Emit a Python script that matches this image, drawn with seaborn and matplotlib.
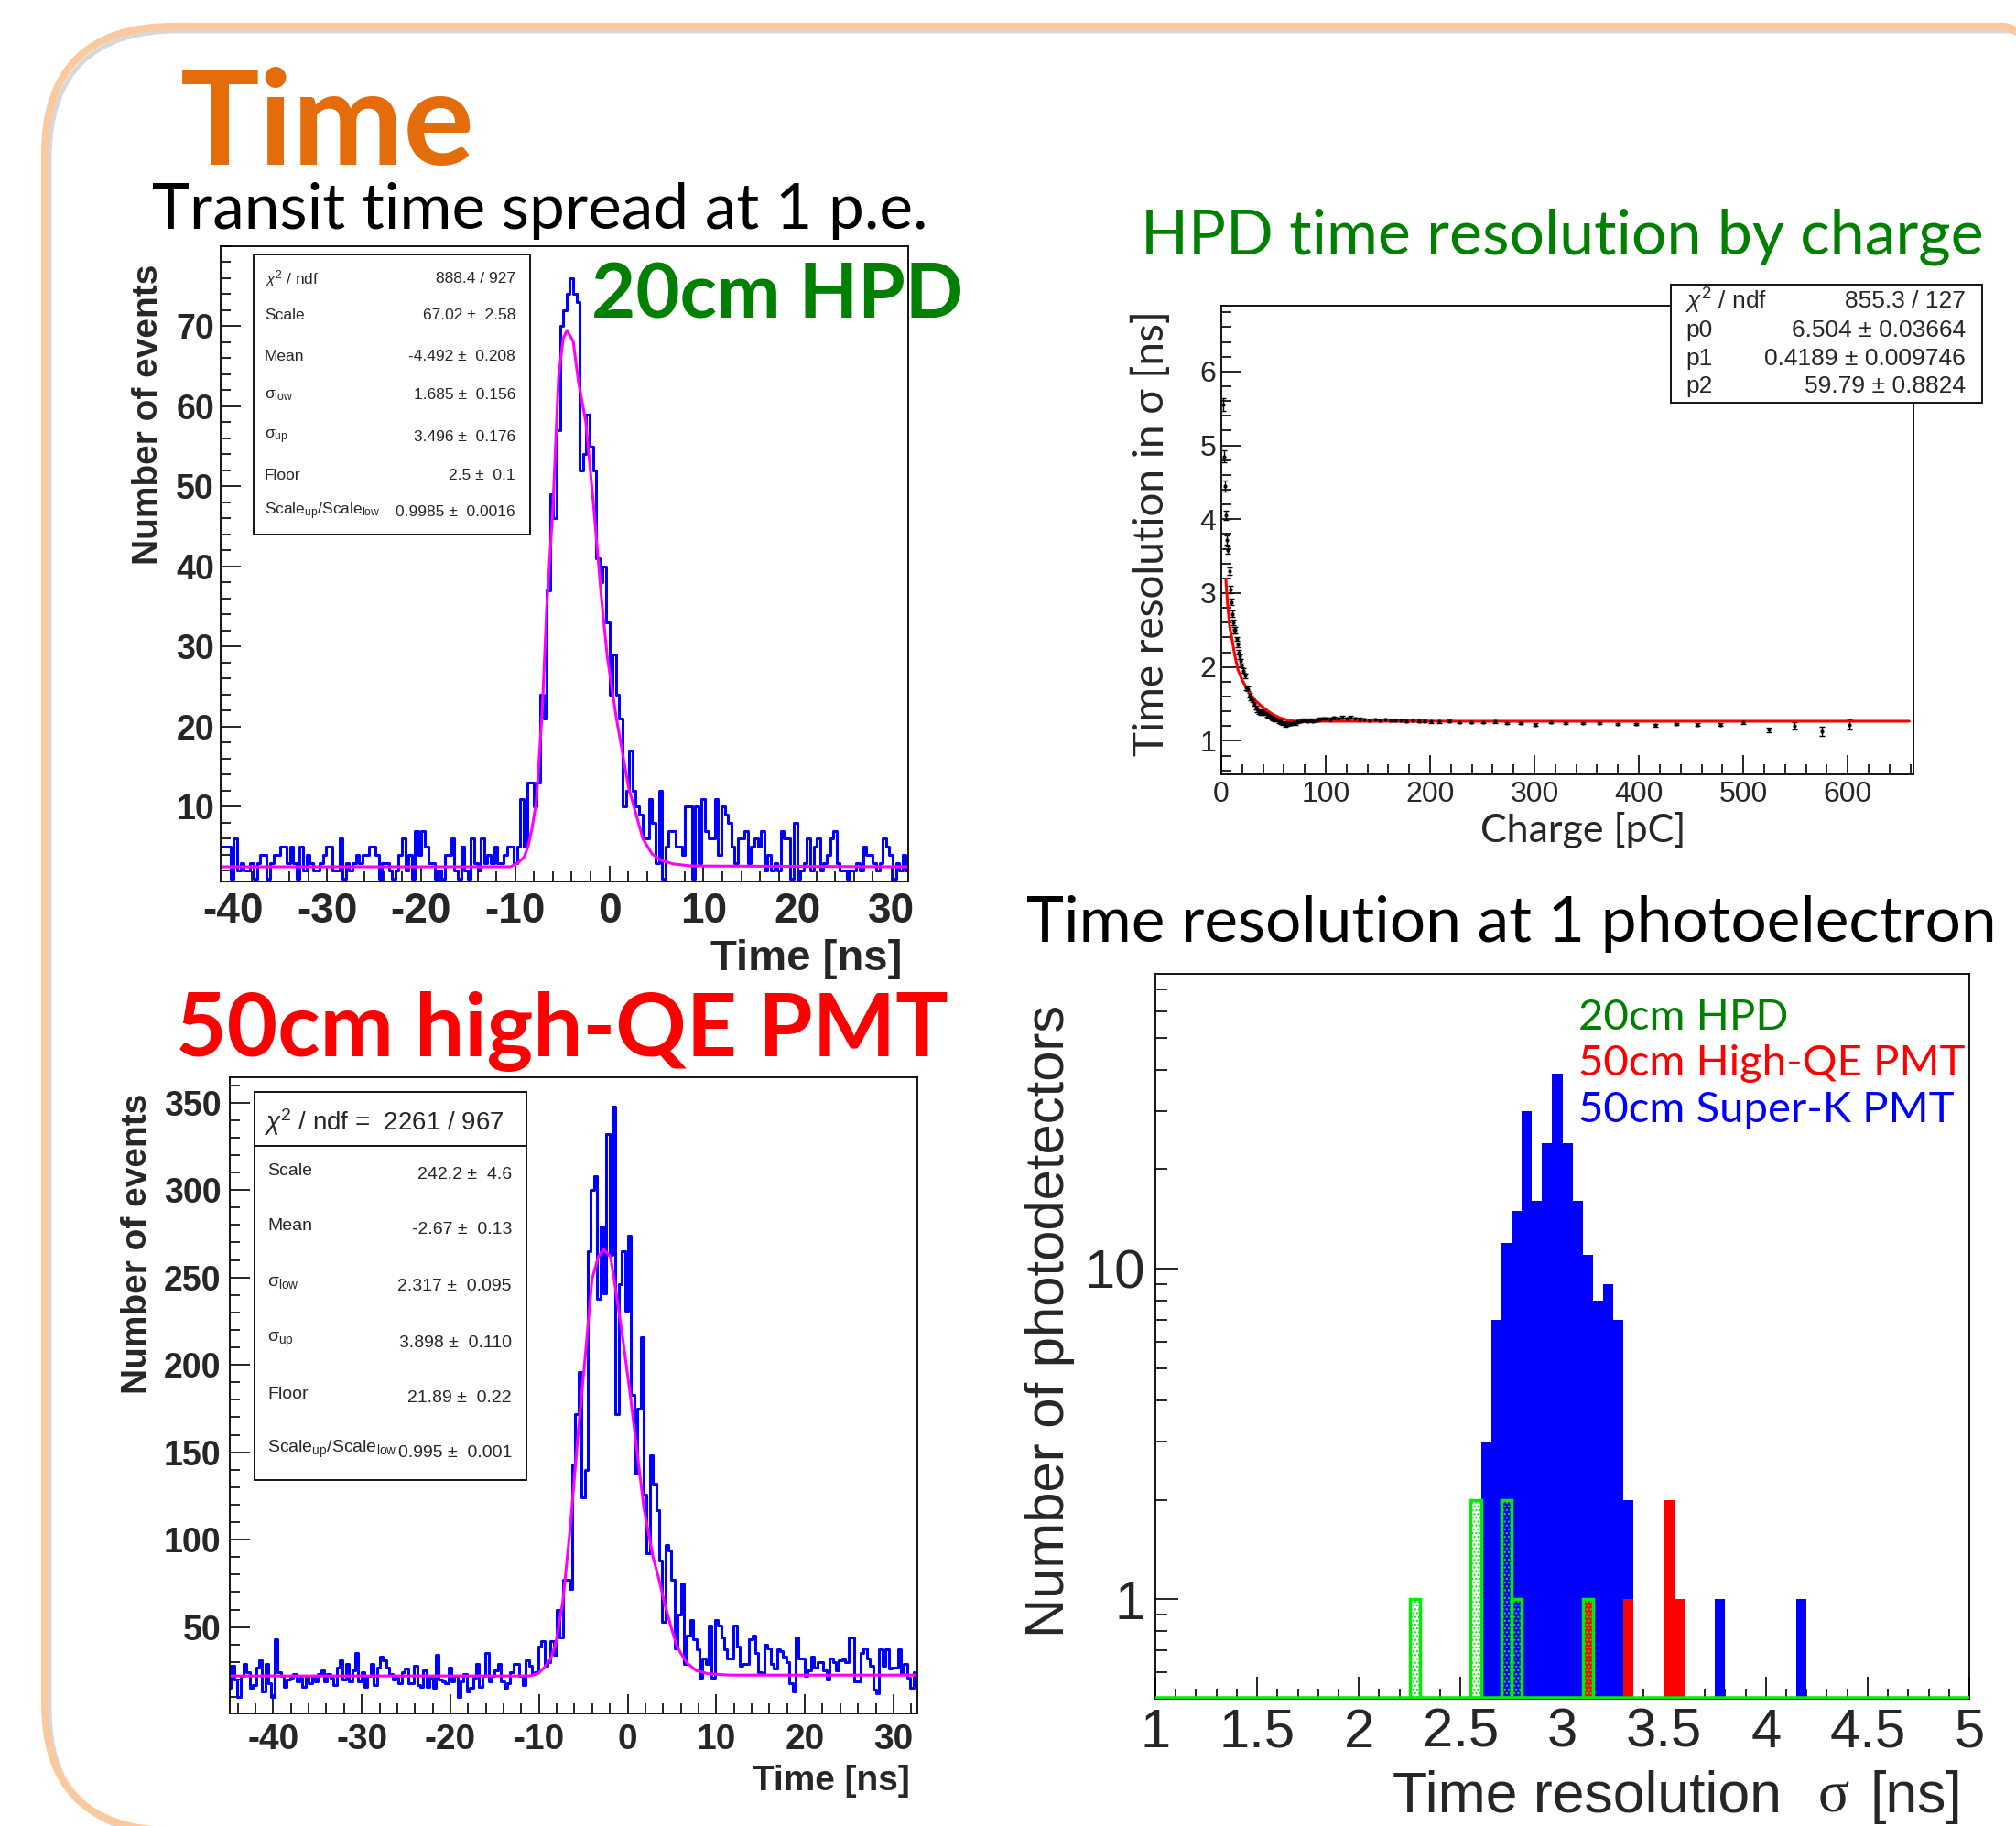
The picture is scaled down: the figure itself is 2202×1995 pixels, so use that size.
import numpy as np
import pandas as pd
import matplotlib
matplotlib.use("Agg")
import matplotlib.pyplot as plt
import seaborn as sns
from matplotlib.patches import FancyBboxPatch, Rectangle
from matplotlib.ticker import MultipleLocator, FixedLocator, NullFormatter

# 20cm HPD transit time histogram (0.35 ns bins)
hpd_start, hpd_width = -41.3, 0.35
hpd_counts = [5, 5, 5, 1, 6, 2, 3, 2, 2, 3, 1, 3, 4, 4, 1, 3, 4, 4, 5, 5, 3, 5, 3, 1, 5, 2, 4,
              3, 2, 2, 3, 4, 5, 5, 2, 2, 6, 1, 3, 2, 3, 4, 3, 4, 4, 5, 5, 4, 1, 3, 3, 2, 1, 2,
              4, 6, 2, 4, 1, 7, 4, 7, 5, 3, 3, 1, 2, 1, 4, 4, 6, 2, 1, 5, 2, 1, 6, 3, 2, 6, 3,
              4, 3, 5, 3, 3, 4, 5, 5, 3,
              5, 11, 5, 13, 13, 10, 13,
              24, 21, 37, 49, 46, 57, 70, 72, 74, 76, 74, 73, 52, 54, 59, 55, 52, 41, 38, 40,
              33, 24, 29, 24, 21, 10, 12, 17,
              12, 10, 9, 6, 6, 11, 8, 3, 12, 1, 5, 7, 7, 5, 5, 4, 10, 10, 1, 10, 3, 11,
              7, 6, 6, 11, 4, 10, 9, 8, 5, 3, 6, 6, 7, 3, 5, 6, 5, 7, 2, 4, 2, 3,
              2, 7, 6, 6, 1, 8, 1, 2, 3, 6, 2, 5, 6, 2, 3, 4, 6, 7, 3, 2, 2, 1,
              2, 2, 3, 2, 5, 4, 4, 3, 2, 3, 6, 5, 4, 1, 3, 2, 4, 2]
hpd_fit_t = [-41.3, -10.5, -9.7, -9.06, -8.64, -8.25, -7.77, -7.13, -6.65, -6.0, -5.4, -4.9, -4.5,
             -3.84, -3.3, -2.5, -1.69, -0.88, -0.23, 0.74, 2.04, 2.92, 3.56, 4.54, 5.5, 6.8, 8.75, 31.75]
hpd_fit_n = [2.5, 2.5, 3.0, 3.7, 5.0, 7.1, 10.5, 22.0, 35.0, 47.3, 63.7, 68.5, 69.5,
             68.1, 63.2, 58.0, 47.8, 36.5, 28.8, 21.1, 12.4, 8.7, 6.0, 4.1, 3.3, 2.85, 2.6, 2.5]

# 50cm high-QE PMT transit time histogram (0.35 ns bins)
pmt_start, pmt_width = -45.1, 0.35
pmt_counts = [15, 28, 20, 10, 22, 29, 24, 15, 17, 27, 31,
              13, 29, 18, 10, 43, 24, 22, 16, 20, 21, 23, 19,
              21, 16, 22, 18, 22, 19, 23, 25, 19, 23, 21, 17,
              27, 31, 20, 29, 19, 25, 35, 19, 24, 16, 22,
              29, 17, 27, 33, 31, 27, 23, 20, 21, 18, 24, 26,
              18, 18, 28, 17, 16, 25, 16, 21, 15, 34, 20,
              19, 18, 27, 19, 22, 10, 19, 23, 13, 15, 21,
              29, 16, 22, 35, 19, 22, 25, 29, 19, 15, 18, 24,
              29, 29, 22, 17, 31, 28, 23, 24, 39, 42, 28, 30,
              42, 34, 60, 44, 77, 77, 72, 143, 172, 196, 124, 140, 265, 300, 308, 238, 279, 241,
              332, 263, 348, 172, 246, 265, 231, 274, 183, 138, 175, 216, 126, 92, 148, 132,
              117, 88, 53, 97, 94, 77, 38, 57,
              75, 29, 45, 54, 43, 37, 21, 32, 29, 51, 21, 54, 51, 44, 37, 32, 32, 51, 39, 28,
              29, 29, 43, 45, 35, 24, 23, 40, 38, 29, 26, 37, 36, 33, 30, 18, 13, 44, 32, 32,
              22, 25, 33, 27, 30, 30, 25, 20, 32, 30, 25, 31, 32, 30, 44, 44, 19, 19, 35, 38,
              32, 28, 14, 12, 37, 28, 37, 26, 27, 27, 37, 23, 29, 21, 15, 24, 24]
pmt_fit_t = [-44.9, -11.1, -10.07, -9.38, -8.69, -8.1, -7.3, -6.44, -5.57, -4.71, -4.02, -3.3, -2.7,
             -1.94, -1.43, -0.57, 0.29, 1.15, 1.84, 2.87, 3.5, 4.2, 4.9, 5.5, 6.0, 6.67, 7.7, 9.08, 11.5, 32.7]
pmt_fit_n = [22.0, 22.0, 23.5, 27.0, 32.0, 41.0, 65.0, 109.0, 162.0, 209.0, 249.0, 262.0, 266.0,
             262.0, 246.0, 216.0, 183.0, 147.0, 118.0, 90.0, 78.0, 63.0, 50.0, 40.0, 35.0, 29.6, 25.2, 23.3, 22.5, 22.5]

# HPD time resolution vs charge
charge = [1.5, 2.5, 3.5, 4.5, 5.5, 6.5, 7.5, 8.5, 9.5, 10.5, 11.5, 12.5, 13.5, 14.5, 15.5, 16.5, 17.5, 18.5, 19.5,
          21, 22.5, 24, 25.5, 27, 28.5, 30, 31.5, 33, 34.5, 36, 37.5, 39, 40.5, 42, 43.5, 45, 46.5, 48, 49.5, 51,
          53, 55, 57, 59, 61, 63, 65, 67, 69, 71, 73,
          76, 79, 82, 85, 88, 91, 94, 97, 100,
          104, 108, 112, 116, 120, 124, 128, 132,
          137, 142, 147, 152, 157, 162, 167, 172, 177,
          183, 189, 195, 201,
          209, 218, 228, 239, 251, 262, 274, 287, 301, 316, 330, 346, 362, 380, 397, 416, 436, 456,
          478, 500, 524, 549, 575, 602]
sigma = [5.55, 4.85, 4.45, 4.05, 3.72, 3.58, 3.3, 3.05, 2.88, 2.72, 2.6, 2.5, 2.5, 2.38, 2.3, 2.2, 2.14, 2.08, 2.02,
         1.95, 1.88, 1.72, 1.7, 1.62, 1.58, 1.55, 1.5, 1.45, 1.42, 1.39, 1.38, 1.38, 1.39, 1.38, 1.36, 1.35, 1.34,
         1.32, 1.31, 1.3,
         1.29, 1.27, 1.26, 1.24, 1.22, 1.23, 1.24, 1.23, 1.25, 1.24, 1.26,
         1.27, 1.28, 1.27, 1.28, 1.27, 1.28, 1.29, 1.3, 1.3,
         1.29, 1.31, 1.3, 1.32, 1.3, 1.32, 1.3, 1.29,
         1.29, 1.28, 1.29, 1.28, 1.29, 1.28, 1.28, 1.28, 1.27,
         1.28, 1.27, 1.27, 1.26,
         1.26, 1.27, 1.25, 1.25, 1.25, 1.26, 1.24, 1.24, 1.22, 1.25, 1.24, 1.24, 1.24, 1.23, 1.23, 1.21, 1.23,
         1.22, 1.22, 1.25, 1.15, 1.2, 1.13, 1.22]
sigma_err = [0.09, 0.08, 0.07, 0.06, 0.06, 0.05, 0.05, 0.05, 0.04, 0.04, 0.04, 0.04, 0.04, 0.03, 0.03, 0.03,
             0.03, 0.03, 0.03,
             0.03, 0.03, 0.03, 0.03, 0.03, 0.03, 0.03, 0.03, 0.03, 0.03, 0.03, 0.03, 0.03, 0.03, 0.03, 0.03,
             0.03, 0.03, 0.03, 0.03, 0.03,
             0.03, 0.03, 0.03, 0.03, 0.03, 0.03, 0.03, 0.02, 0.02, 0.02, 0.02,
             0.02, 0.02, 0.02, 0.02, 0.02, 0.02, 0.02, 0.02, 0.02,
             0.02, 0.02, 0.02, 0.02, 0.02, 0.02, 0.02, 0.02,
             0.015, 0.015, 0.015, 0.015, 0.015, 0.015, 0.015, 0.015, 0.015,
             0.015, 0.015, 0.015, 0.015,
             0.015, 0.015, 0.015, 0.015, 0.015, 0.015, 0.015, 0.015, 0.015, 0.015, 0.015, 0.015, 0.015,
             0.015, 0.015, 0.015, 0.015, 0.015, 0.02, 0.02, 0.03, 0.05, 0.06, 0.07]
charge_fit = [4.3, 6.0, 8.0, 10.7, 13.0, 16.0, 20.0, 24.0, 30.0, 37.6, 44.0, 49.0, 56.0, 64.0, 70.0, 659.0]
sigma_fit = [3.19, 2.85, 2.55, 2.34, 2.15, 1.96, 1.82, 1.72, 1.58, 1.48, 1.41, 1.36, 1.31, 1.28, 1.265, 1.265]

# time resolution at 1 p.e. (0.05 ns bins from 1 to 5 ns)
res_lo, res_hi, res_step = 1.0, 5.0, 0.05
sk_res = [2.625, 2.675, 2.725, 2.775, 2.825, 2.875, 2.925, 2.975, 3.025, 3.075, 3.125, 3.175,
          3.225, 3.275, 3.325, 3.775, 4.175]
sk_n = [3, 7, 12, 15, 30, 16, 24, 39, 24, 16, 11, 8, 9, 7, 2, 1, 1]
hqe_res = [3.125, 3.325, 3.525, 3.575]
hqe_n = [1, 1, 2, 1]
hpd_res = [2.275, 2.575, 2.725, 2.775, 3.125]
hpd_n = [1, 2, 2, 1, 1]

sns.set_theme(style="white")
plt.rcParams['font.family'] = ['Liberation Sans', 'DejaVu Sans']
plt.rcParams['axes.unicode_minus'] = False
plt.rcParams['mathtext.fontset'] = 'custom'
plt.rcParams['mathtext.rm'] = 'Liberation Sans'
plt.rcParams['mathtext.it'] = 'Liberation Sans:italic'
plt.rcParams['mathtext.bf'] = 'Liberation Sans:bold'

W, H = 2202, 1995
fig = plt.figure(figsize=(W / 100, H / 100), dpi=100, facecolor='white')
narrow = ['Liberation Sans Narrow', 'Liberation Sans', 'DejaVu Sans']
cal = ['Lato', 'DejaVu Sans']


def fx(px):
    return px / W


def fy(py):
    return 1 - py / H


def add_ax(l, t, r, b):
    return fig.add_axes([fx(l), fy(b), (r - l) / W, (b - t) / H])


def root_style(ax, xmaj_len, xmin_len, ymaj_len, ymin_len):
    for s in ax.spines.values():
        s.set_color('black')
        s.set_linewidth(1.3)
    ax.tick_params(which='both', direction='in', top=False, right=False, bottom=True, left=True,
                   color='black', width=1.2)
    ax.tick_params(axis='x', which='major', length=xmaj_len)
    ax.tick_params(axis='x', which='minor', length=xmin_len)
    ax.tick_params(axis='y', which='major', length=ymaj_len)
    ax.tick_params(axis='y', which='minor', length=ymin_len)
    ax.set_xlabel('')
    ax.set_ylabel('')


def stat_box(l, t, r, b):
    fig.add_artist(Rectangle((fx(l), fy(b)), (r - l) / W, (b - t) / H, transform=fig.transFigure,
                             facecolor='white', edgecolor='black', linewidth=1.3, zorder=5))


def hist_df(centers, counts):
    return pd.DataFrame({'t': [float(c) for c in centers], 'n': [float(v) for v in counts]})


def hist_step(ax, start, width, counts):
    n = len(counts)
    edges = [float(e) for e in start + width * np.arange(n + 1)]
    centers = start + width * (np.arange(n) + 0.5)
    sns.histplot(data=hist_df(centers, counts), x='t', weights='n', bins=edges, element='step',
                 fill=False, color='#0000ff', linewidth=2.2, ax=ax)


def slide_frame(l, t, r, b, radius, color, lw, alpha=1.0):
    fig.add_artist(FancyBboxPatch((fx(l), fy(b)), (r - l) / W, (b - t) / H,
                                  boxstyle='round,pad=0,rounding_size=%f' % (radius / W),
                                  mutation_aspect=W / H, transform=fig.transFigure,
                                  facecolor='none', edgecolor=color, linewidth=lw, alpha=alpha, zorder=0))


# slide frame with a soft inner shadow
slide_frame(54, 34, 2333, 2005, 140, '#bdbdbd', 3.5, alpha=0.6)
slide_frame(49, 29, 2328, 2000, 140, '#fac99e', 5.8)

# ---------------- panel 1: 20cm HPD
ax1 = add_ax(241, 269, 992, 963)
hist_step(ax1, hpd_start, hpd_width, hpd_counts)
sns.lineplot(x=hpd_fit_t, y=hpd_fit_n, color='#ff00ff', linewidth=2.2, estimator=None, sort=False, ax=ax1)
ax1.set_xlim(-41.3, 31.75)
ax1.set_ylim(0.67, 80)
root_style(ax1, 12, 8, 16, 8)
ax1.xaxis.set_major_locator(FixedLocator([-40, -30, -20, -10, 0, 10, 20, 30]))
ax1.xaxis.set_minor_locator(MultipleLocator(2))
ax1.yaxis.set_major_locator(FixedLocator([10, 20, 30, 40, 50, 60, 70]))
ax1.yaxis.set_minor_locator(MultipleLocator(2))
ax1.set_xticklabels(['-40', '-30', '-20', '-10', '0', '10', '20', '30'], fontsize=33, fontweight='bold')
ax1.set_yticklabels(['10', '20', '30', '40', '50', '60', '70'], fontsize=27, fontweight='bold')
ax1.tick_params(axis='x', pad=8)
ax1.tick_params(axis='y', pad=5)
fig.text(fx(162), fy(453), 'Number of events', rotation=90, ha='center', va='center',
         fontsize=28, fontweight='bold')
fig.text(fx(985), fy(1060), 'Time [ns]', ha='right', va='baseline', fontsize=34, fontweight='bold')

stat_box(277, 278, 579, 584)
names1 = [r'$\chi^{2}$ / ndf', 'Scale', 'Mean', r'σ$_{\rm low}$', r'σ$_{\rm up}$', 'Floor',
          r'Scale$_{\rm up}$/Scale$_{\rm low}$']
vals1 = ['888.4 / 927', '67.02 ±  2.58', '-4.492 ±  0.208', '1.685 ±  0.156', '3.496 ±  0.176',
         '2.5 ±  0.1', '0.9985 ±  0.0016']
rows1 = [305, 345, 389, 432, 477, 520, 559]
for nm, vv, yy in zip(names1, vals1, rows1):
    fig.text(fx(289), fy(yy), nm, fontsize=12.5, va='center', ha='left', zorder=6)
    fig.text(fx(563), fy(yy), vv, fontsize=12.5, va='center', ha='right', zorder=6)

# ---------------- panel 2: 50cm high-QE PMT
ax2 = add_ax(251, 1177, 1002, 1872)
hist_step(ax2, pmt_start, pmt_width, pmt_counts)
sns.lineplot(x=pmt_fit_t, y=pmt_fit_n, color='#ff00ff', linewidth=2.2, estimator=None, sort=False, ax=ax2)
ax2.set_xlim(-44.9, 32.7)
ax2.set_ylim(0.6, 364.5)
root_style(ax2, 15, 8, 16, 8)
ax2.xaxis.set_major_locator(FixedLocator([-40, -30, -20, -10, 0, 10, 20, 30]))
ax2.xaxis.set_minor_locator(MultipleLocator(2))
ax2.yaxis.set_major_locator(FixedLocator([50, 100, 150, 200, 250, 300, 350]))
ax2.yaxis.set_minor_locator(MultipleLocator(10))
ax2.set_xticklabels(['-40', '-30', '-20', '-10', '0', '10', '20', '30'], fontsize=28, fontweight='bold')
ax2.set_yticklabels(['50', '100', '150', '200', '250', '300', '350'], fontsize=27, fontweight='bold')
ax2.tick_params(axis='x', pad=8)
ax2.tick_params(axis='y', pad=7)
fig.text(fx(150), fy(1359), 'Number of events', rotation=90, ha='center', va='center',
         fontsize=28, fontweight='bold')
fig.text(fx(994), fy(1956), 'Time [ns]', ha='right', va='baseline', fontsize=28, fontweight='bold')

stat_box(278, 1193, 575, 1617)
fig.add_artist(plt.Line2D([fx(278), fx(575)], [fy(1252), fy(1252)], color='black', linewidth=1.3, zorder=6))
fig.text(fx(288), fy(1226), r'$\chi^{2}$ / ndf =  2261 / 967', fontsize=20, va='center', ha='left', zorder=6)
names2 = ['Scale', 'Mean', r'σ$_{\rm low}$', r'σ$_{\rm up}$', 'Floor', r'Scale$_{\rm up}$/Scale$_{\rm low}$']
vals2 = ['242.2 ±  4.6', '-2.67 ±  0.13', '2.317 ±  0.095', '3.898 ±  0.110', '21.89 ±  0.22', '0.995 ±  0.001']
rows2 = [1284, 1344, 1406, 1468, 1527, 1587]
for nm, vv, yy in zip(names2, vals2, rows2):
    fig.text(fx(292), fy(yy - 4), nm, fontsize=14, va='center', ha='left', zorder=6)
    fig.text(fx(559), fy(yy), vv, fontsize=14, va='center', ha='right', zorder=6)

# ---------------- panel 3: HPD time resolution by charge
ax3 = add_ax(1334, 334, 2090, 846)
ax3.errorbar(charge, sigma, yerr=sigma_err, fmt='o', markersize=2, color='black', ecolor='black',
             elinewidth=1, capsize=2.5, capthick=1)
sns.lineplot(x=charge_fit, y=sigma_fit, color='red', linewidth=2.2, estimator=None, sort=False, ax=ax3)
ax3.set_xlim(0, 663)
ax3.set_ylim(0.546, 6.89)
root_style(ax3, 15, 8, 15, 8)
ax3.xaxis.set_major_locator(FixedLocator([0, 100, 200, 300, 400, 500, 600]))
ax3.xaxis.set_minor_locator(MultipleLocator(20))
ax3.yaxis.set_major_locator(FixedLocator([1, 2, 3, 4, 5, 6]))
ax3.yaxis.set_minor_locator(MultipleLocator(0.2))
ax3.set_xticklabels(['0', '100', '200', '300', '400', '500', '600'], fontsize=23, family=narrow)
ax3.set_yticklabels(['1', '2', '3', '4', '5', '6'], fontsize=23, family=narrow)
ax3.tick_params(axis='x', pad=5)
ax3.tick_params(axis='y', pad=4)
fig.text(fx(1257), fy(583), 'Time resolution in σ [ns]', rotation=90, ha='center', va='center',
         fontsize=33, family=cal)
fig.text(fx(1729), fy(907), 'Charge [pC]', ha='center', va='center', fontsize=31, family=cal)

stat_box(1825, 311, 2165, 440)
names3 = [r'$\chi^{2}$ / ndf', 'p0', 'p1', 'p2']
vals3 = ['855.3 / 127', '6.504 ± 0.03664', '0.4189 ± 0.009746', '59.79 ± 0.8824']
rows3 = [329, 361, 392, 422]
for nm, vv, yy in zip(names3, vals3, rows3):
    fig.text(fx(1841), fy(yy), nm, fontsize=19, va='center', ha='left', zorder=6, family=narrow)
    fig.text(fx(2147), fy(yy), vv, fontsize=19, va='center', ha='right', zorder=6, family=narrow)

# ---------------- panel 4: time resolution at 1 p.e.
ax4 = add_ax(1262, 1064, 2151, 1856)
edges4 = [float(e) for e in np.arange(res_lo, res_hi + res_step / 2, res_step)]
sns.histplot(data=hist_df(sk_res, sk_n), x='t', weights='n', bins=edges4, color='#0000ff', alpha=1,
             edgecolor='none', linewidth=0, ax=ax4)
sns.histplot(data=hist_df(hqe_res, hqe_n), x='t', weights='n', bins=edges4, color='#ff0000', alpha=1,
             edgecolor='none', linewidth=0, ax=ax4)
n_before = len(ax4.patches)
sns.histplot(data=hist_df(hpd_res, hpd_n), x='t', weights='n', bins=edges4, color='#00ff00', alpha=1, ax=ax4)
for p in ax4.patches[n_before:]:
    p.set_facecolor('none')
    p.set_edgecolor('#00ee00')
    p.set_hatch('....')
    p.set_linewidth(2.5)
for p in ax4.patches:
    if p.get_height() <= 0:
        p.set_visible(False)
ax4.set_yscale('log')
ax4.set_xlim(res_lo, res_hi)
ax4.set_ylim(0.5, 78)
ax4.axhline(0.5, color='#00ee00', linewidth=4, zorder=3)
root_style(ax4, 17, 8, 18, 9)
ax4.xaxis.set_major_locator(FixedLocator([1, 1.5, 2, 2.5, 3, 3.5, 4, 4.5, 5]))
ax4.xaxis.set_minor_locator(MultipleLocator(0.1))
ax4.yaxis.set_major_locator(FixedLocator([1, 10]))
ax4.yaxis.set_minor_locator(FixedLocator([0.6, 0.7, 0.8, 0.9, 2, 3, 4, 5, 6, 7, 8, 9, 20, 30, 40, 50, 60, 70]))
ax4.yaxis.set_minor_formatter(NullFormatter())
ax4.set_xticklabels(['1', '1.5', '2', '2.5', '3', '3.5', '4', '4.5', '5'], fontsize=43)
ax4.set_yticklabels(['1', '10'], fontsize=43)
ax4.tick_params(axis='x', pad=7)
ax4.tick_params(axis='y', pad=8)
fig.text(fx(1147), fy(1443), 'Number of photodetectors', rotation=90, ha='center', va='center', fontsize=43)
fig.text(fx(1521), fy(1980), 'Time resolution', ha='left', va='baseline', fontsize=45)
fig.text(fx(2143), fy(1980), '[ns]', ha='right', va='baseline', fontsize=45)
fig.text(fx(2020), fy(1980), 'σ', ha='right', va='baseline', fontsize=46, family='Liberation Serif')

lg = dict(ha='left', va='baseline', fontsize=34, family=cal)
fig.text(fx(1724), fy(1125), '20cm HPD', color='#008000', **lg)
fig.text(fx(1724), fy(1175), '50cm High-QE PMT', color='#ff0000', **lg)
fig.text(fx(1724), fy(1226), '50cm Super-K PMT', color='#0000ff', **lg)

# ---------------- slide titles
fig.text(fx(197), fy(180), 'Time', fontsize=104, family=cal, fontweight='bold', color='#e46c0a', va='baseline')
fig.text(fx(166), fy(250), 'Transit time spread at 1 p.e.', fontsize=50, family=cal, va='baseline', color='black')
fig.text(fx(646), fy(347), '20cm HPD', fontsize=60, family=cal, fontweight='bold', color='#008000',
         va='baseline', zorder=7)
fig.text(fx(192), fy(1154), '50cm high-QE PMT', fontsize=69, family=cal, fontweight='bold',
         color='#ff0000', va='baseline')
fig.text(fx(1246), fy(277), 'HPD time resolution by charge', fontsize=49, family=cal, color='#008000',
         va='baseline')
fig.text(fx(1121), fy(1029), 'Time resolution at 1 photoelectron', fontsize=50, family=cal,
         color='black', va='baseline')

fig.savefig('out.png', dpi=100, facecolor='white')
